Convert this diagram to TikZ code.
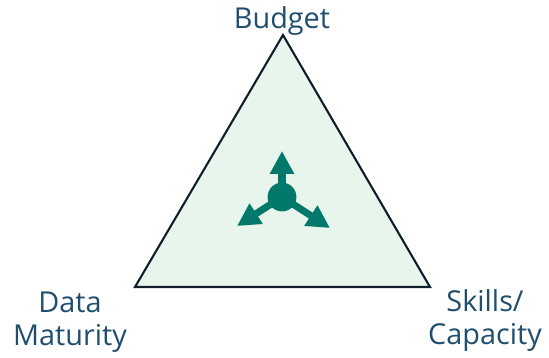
\documentclass[tikz,border=0pt]{standalone}
\usepackage{fontspec}
\setmainfont{Open Sans}
\usetikzlibrary{arrows.meta}
\definecolor{labelblue}{HTML}{1F4E6E}
\definecolor{areagreen}{HTML}{E8F5EC}
\definecolor{hubteal}{HTML}{00796B}
\definecolor{edgenavy}{HTML}{0F1E2B}
\begin{document}
\begin{tikzpicture}[x=0.02cm,y=-0.02cm,line cap=round]
	\tikzstyle{corner}=[font=\fontsize{16.4}{19}\selectfont,text=labelblue,inner sep=0pt,align=center,anchor=base]
	\tikzstyle{spoke}=[hubteal,line width=4pt,-{Triangle[length=13pt,width=13pt]}]
	\useasboundingbox (0,0) rectangle (549,358);
	\foreach \c/\x/\y in {top/283/35, left/135/287, right/430/287} {\coordinate (\c) at (\x,\y);}
	\draw[edgenavy,fill=areagreen,line width=1.2pt] (top) -- (left) -- (right) -- cycle;
	\node[corner] (budget) at (282,29) {Budget};
	\node[corner] (data) at (70,346) {Data\\Maturity};
	\node[corner] (skills) at (485,345) {Skills/\\Capacity};
	% hub with three spokes
	\node[circle,fill=hubteal,minimum size=16.4pt,inner sep=0pt] (hub) at (282,197) {};
	\foreach \t/\x/\y in {up/282/151, dl/237/226, dr/330/228} {\coordinate (\t) at (\x,\y); \draw[spoke] (hub.center) -- (\t);}
\end{tikzpicture}
\end{document}
